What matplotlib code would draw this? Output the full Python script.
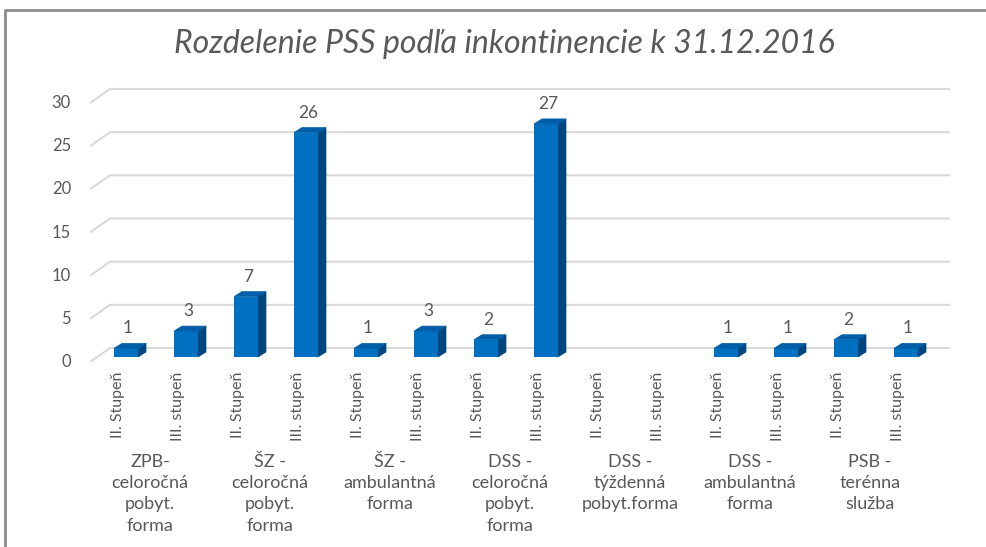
import matplotlib
matplotlib.use("Agg")
import matplotlib.pyplot as plt
from matplotlib.patches import Polygon
from matplotlib.lines import Line2D

# data
categories = [
    "ZPB-\nceloročná\npobyt.\nforma",
    "ŠZ -\nceloročná\npobyt.\nforma",
    "ŠZ -\nambulantná\nforma",
    "DSS -\nceloročná\npobyt.\nforma",
    "DSS -\ntýždenná\npobyt.forma",
    "DSS -\nambulantná\nforma",
    "PSB -\nterénna\nslužba",
]
sub_labels = ["II. Stupeň", "III. stupeň"]
values = [1, 3, 7, 26, 1, 3, 2, 27, 0, 0, 1, 1, 2, 1]
yticks = [0, 5, 10, 15, 20, 25, 30]
title = "Rozdelenie PSS podľa inkontinencie k 31.12.2016"

plt.rcParams['font.family'] = ['Lato', 'DejaVu Sans']
TXT = '#595959'
GRID = '#D9D9D9'
FRONT = '#0070C0'
SIDE = '#00477F'
TOP = '#005FA8'

W, H = 986, 547
fig = plt.figure(figsize=(W / 100, H / 100), dpi=100)

# axes area in pixels
ax_l, ax_r, ax_b, ax_t = 90, 950, 362, 80
ax = fig.add_axes([ax_l / W, 1 - ax_b / H, (ax_r - ax_l) / W, (ax_b - ax_t) / H])
ax.set_axis_off()

px_x = 60.0           # pixels per bar slot
px_y = 8.633          # pixels per unit
x_lo = -(126 - ax_l) / px_x
x_hi = (ax_r - 126) / px_x
y_lo = -5 / px_y
y_hi = (357 - ax_t) / px_y
ax.set_xlim(x_lo, x_hi)
ax.set_ylim(y_lo, y_hi)

# back wall gridlines with floor diagonal
gdx = 20 / px_x
gdy = 14 / px_y
for v in yticks:
    yf = v + y_lo
    ax.plot([x_lo, x_lo + gdx, x_hi], [yf, yf + gdy, yf + gdy],
            color=GRID, lw=1.5, zorder=1, solid_capstyle='butt')
    ax.annotate(str(v), xy=(x_lo, yf), xytext=(-19, 0), textcoords='offset pixels',
                ha='right', va='center', fontsize=12, color=TXT, annotation_clip=False)

# bars with pseudo-3D faces
bw = 24 / px_x
bdx = 8 / px_x
bdy = 5 / px_y
xs = list(range(len(values)))
ax.bar(xs, values, width=bw, color=FRONT, zorder=3, linewidth=0)
for x, v in zip(xs, values):
    if v == 0:
        continue
    x0, x1 = x - bw / 2, x + bw / 2
    ax.add_patch(Polygon([(x1, 0), (x1 + bdx, bdy), (x1 + bdx, v + bdy), (x1, v)],
                         closed=True, facecolor=SIDE, edgecolor=SIDE, lw=0.5, zorder=2))
    ax.add_patch(Polygon([(x0, v), (x1, v), (x1 + bdx, v + bdy), (x0 + bdx, v + bdy)],
                         closed=True, facecolor=TOP, edgecolor=TOP, lw=0.5, zorder=4))
    ax.annotate(str(v), xy=(x, v), xytext=(2, 12), textcoords='offset pixels',
                ha='center', va='bottom', fontsize=12.5, color=TXT)

# rotated sub labels
for x in xs:
    ax.annotate(sub_labels[x % 2], xy=(x, y_lo), xytext=(-8, -10), textcoords='offset pixels',
                rotation=90, ha='center', va='top', fontsize=11.5, color=TXT,
                annotation_clip=False)

# category labels
for i, c in enumerate(categories):
    xc = (2 * i + 2 * i + 1) / 2
    ax.annotate(c, xy=(xc, y_lo), xytext=(-6, -92), textcoords='offset pixels',
                ha='center', va='top', fontsize=13, color=TXT, linespacing=1.4,
                annotation_clip=False)

fig.text(504 / W, 1 - 44 / H, title, ha='center', va='center', fontsize=23,
         style='italic', color=TXT)

# chart border: only left and top edges are visible
bx, by = 5 / W, 1 - 10 / H
fig.add_artist(Line2D([bx, bx, 1.0], [0.0, by, by], transform=fig.transFigure,
                      color='#8C8C8C', linewidth=2))

fig.savefig("out.png", dpi=100)
